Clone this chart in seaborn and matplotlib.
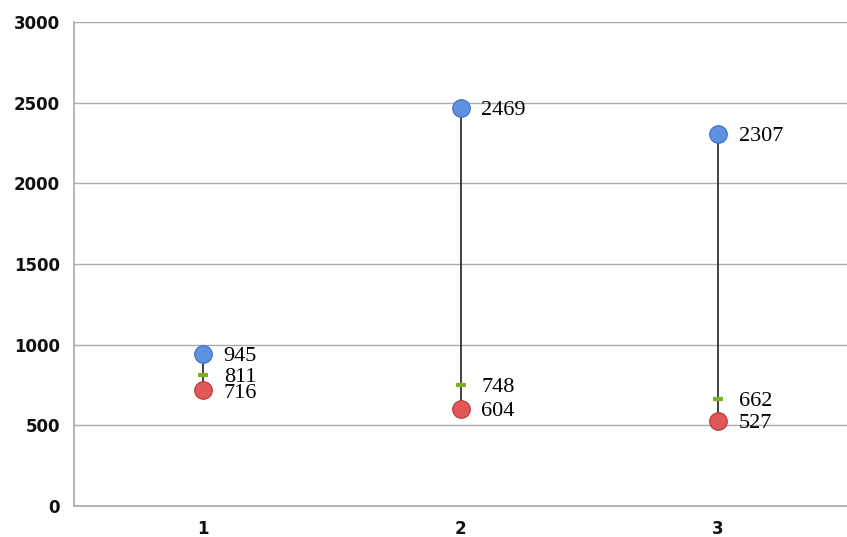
import matplotlib
matplotlib.use("Agg")
import matplotlib.pyplot as plt
import seaborn as sns
import pandas as pd

categories = [1, 2, 3]
high = [945, 2469, 2307]
mid = [811, 748, 662]
low = [716, 604, 527]

df = pd.DataFrame({"cat": categories, "high": high, "mid": mid, "low": low})

sns.set_style("white")
plt.rcParams['font.family'] = ['DejaVu Sans']

fig = plt.figure(figsize=(8.47, 5.37), dpi=100)
ax = fig.add_axes([74/847, 1-506/537, 1-74/847, (506-22)/537])

ax.vlines(df["cat"], df["low"], df["high"], color="#222222", lw=1.2, zorder=2)
sns.scatterplot(data=df, x="cat", y="mid", marker="_", s=50, color="#7fb020",
                linewidth=3, ax=ax, zorder=3, legend=False)
sns.scatterplot(data=df, x="cat", y="high", s=160, color="#5b93e0",
                edgecolor="#3d6cc0", linewidth=0.8, ax=ax, zorder=4, legend=False)
sns.scatterplot(data=df, x="cat", y="low", s=160, color="#e25858",
                edgecolor="#b83636", linewidth=0.8, ax=ax, zorder=4, legend=False)

lab_kw = dict(textcoords="offset points", va="center", ha="left",
              fontsize=16, family="Liberation Serif", color="#000000")
for c, v in zip(categories, high):
    ax.annotate(str(v), (c, v), xytext=(15, -2), **lab_kw)
for c, v in zip(categories, mid):
    ax.annotate(str(v), (c, v), xytext=(15, -1.5), **lab_kw)
for c, v in zip(categories, low):
    ax.annotate(str(v), (c, v), xytext=(15, -2), **lab_kw)

ax.set_xlim(0.5, 3.5)
ax.set_ylim(0, 3000)
ax.set_yticks(range(0, 3001, 500))
ax.set_xticks([1.5, 2.5, 3.5])
ax.set_xticklabels([])
ax.set_xticks(categories, minor=True)
ax.set_xticklabels([str(c) for c in categories], minor=True)
ax.tick_params(axis="x", which="minor", length=0, pad=10, labelsize=12)
ax.tick_params(axis="x", which="major", length=6, color="#aaaaaa", direction="out")
ax.tick_params(axis="y", length=6, color="#aaaaaa", direction="out", labelsize=12, pad=4)
ax.yaxis.grid(True, color="#aaaaaa", lw=1)
ax.set_axisbelow(True)
for s in ["top", "right"]:
    ax.spines[s].set_visible(False)
for s in ["left", "bottom"]:
    ax.spines[s].set_color("#aaaaaa")
    ax.spines[s].set_linewidth(1.2)
ax.set_xlabel("")
ax.set_ylabel("")
for lab in ax.get_yticklabels() + ax.get_xticklabels(minor=True):
    lab.set_fontweight("bold")
    lab.set_color("#111111")

fig.savefig("out.png", dpi=100)
